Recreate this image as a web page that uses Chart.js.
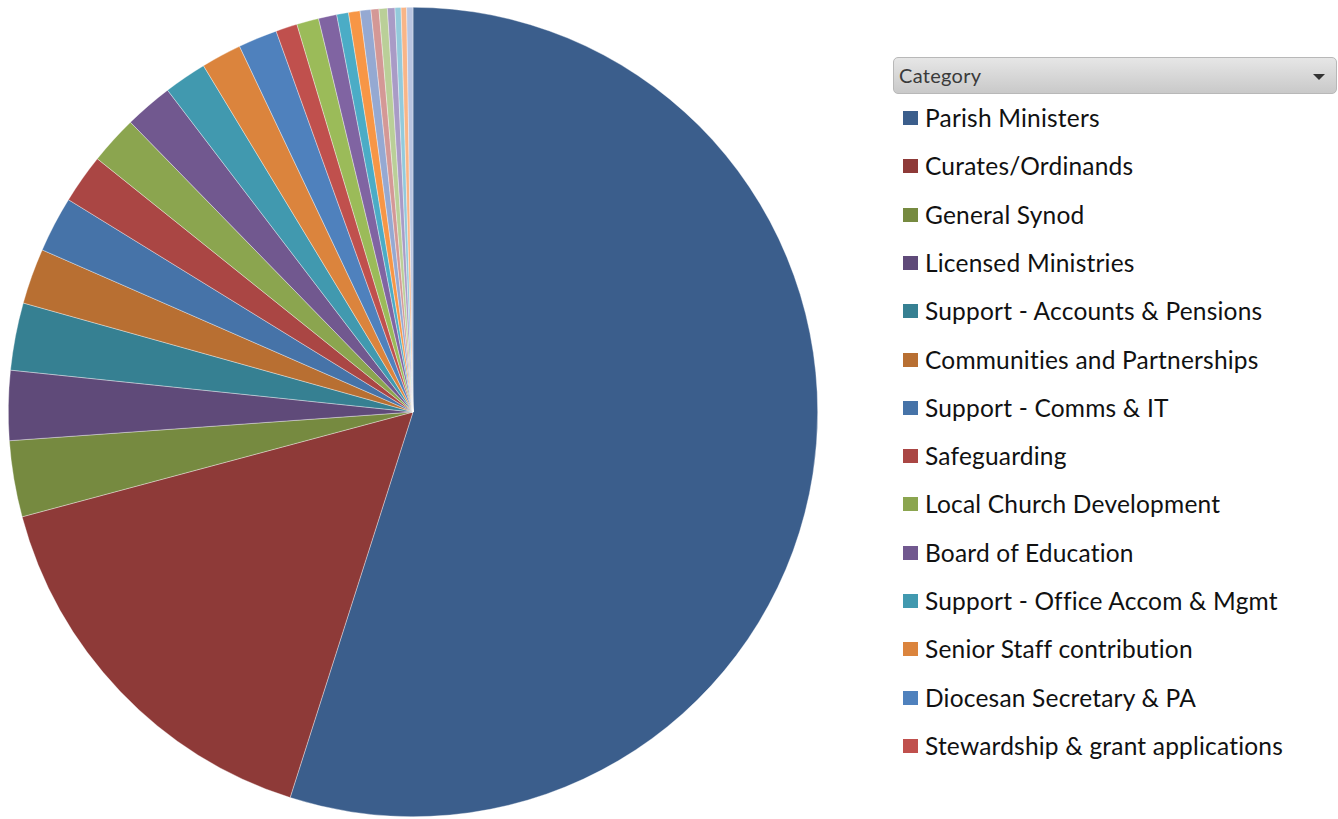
<!DOCTYPE html>
<html lang="en">
<head>
   <meta charset="UTF-8">
   <title>Category split</title>
   <script src="https://cdn.jsdelivr.net/npm/chart.js"></script>
   <style>
      body { margin: 0; background: #fff; font-family: Lato, "Open Sans", sans-serif; }
      #wrap { position: relative; width: 1338px; height: 819px; overflow: hidden; }
      #pieBox { position: absolute; left: 0; top: 0; width: 826px; height: 819px; }
      #fieldBtn {
         position: absolute; left: 893px; top: 57px; width: 442px; height: 35px;
         border: 1px solid #b8b8b8; border-radius: 5px;
         background: linear-gradient(#e6e6e6, #c9c9c9);
         box-sizing: content-box;
      }
      #fieldBtn span { position: absolute; left: 5px; top: 5px; font-size: 20px; letter-spacing: 0.3px; color: #3a3a3a; }
      #fieldBtn i {
         position: absolute; left: 419px; top: 16px; width: 0; height: 0;
         border-left: 6px solid transparent; border-right: 6px solid transparent; border-top: 6px solid #333;
      }
      #legend { position: absolute; left: 903px; top: 0; }
      .item { position: absolute; left: 0; height: 24px; white-space: nowrap; }
      .item b { position: absolute; left: 0; top: 5px; width: 15px; height: 14px; }
      .item span { position: absolute; left: 22px; top: -3px; font-size: 24.5px; letter-spacing: 0.2px; color: #111; }
   </style>
</head>
<body>
   <div id="wrap">
      <div id="pieBox"><canvas id="pieChart" width="826" height="819"></canvas></div>
      <div id="fieldBtn"><span>Category</span><i></i></div>
      <div id="legend"></div>
   </div>

   <script>
      // categories, biggest first (legend only shows the first 14)
      const categories = [
         'Parish Ministers', 'Curates/Ordinands', 'General Synod', 'Licensed Ministries',
         'Support - Accounts & Pensions', 'Communities and Partnerships', 'Support - Comms & IT',
         'Safeguarding', 'Local Church Development', 'Board of Education',
         'Support - Office Accom & Mgmt', 'Senior Staff contribution', 'Diocesan Secretary & PA',
         'Stewardship & grant applications',
         'Other 15', 'Other 16', 'Other 17', 'Other 18', 'Other 19', 'Other 20',
         'Other 21', 'Other 22', 'Other 23', 'Other 24', 'Other 25'
      ];

      // share of total, %
      const shares = [
         54.91, 15.92, 3.04, 2.78, 2.69, 2.22, 2.23, 1.97, 1.94, 1.93, 1.71, 1.61, 1.56,
         0.86, 0.88, 0.73, 0.47, 0.46, 0.43, 0.32, 0.33, 0.30, 0.24, 0.22, 0.25
      ];

      const sliceColors = [
         '#3B5E8C', '#8E3A38', '#768A40', '#5F4A79', '#368092', '#B86F32',
         '#4673A8', '#AA4644', '#8BA54F', '#71588F', '#4199AF', '#DB843D',
         '#4F81BD', '#C0504D', '#9BBB59', '#8064A2', '#4BACC6', '#F79646',
         '#95A9D2', '#D49896', '#BACF98', '#A99BC6', '#93CADB', '#F9B587', '#B9C5E1'
      ];

      const legendCount = 14;

      const chart = new Chart(document.getElementById('pieChart'), {
         type: 'pie',
         data: {
            labels: categories,
            datasets: [{
               data: shares,
               backgroundColor: sliceColors,
               borderColor: 'rgba(255,255,255,0.6)',
               borderWidth: 0.6
            }]
         },
         options: {
            responsive: false,
            animation: false,
            layout: { padding: { left: 8, right: 8, top: 7, bottom: 2 } },
            plugins: {
               legend: { display: false },
               tooltip: { enabled: false }
            }
         }
      });

      // legend built from the chart's own label items
      const legendEl = document.getElementById('legend');
      const items = Chart.overrides.pie.plugins.legend.labels.generateLabels(chart);
      items.slice(0, legendCount).forEach((it, i) => {
         const row = document.createElement('div');
         row.className = 'item';
         row.style.top = (106 + i * 48.3) + 'px';
         row.innerHTML = `<b style="background:${it.fillStyle}"></b><span>${it.text}</span>`;
         legendEl.appendChild(row);
      });
   </script>
</body>
</html>
